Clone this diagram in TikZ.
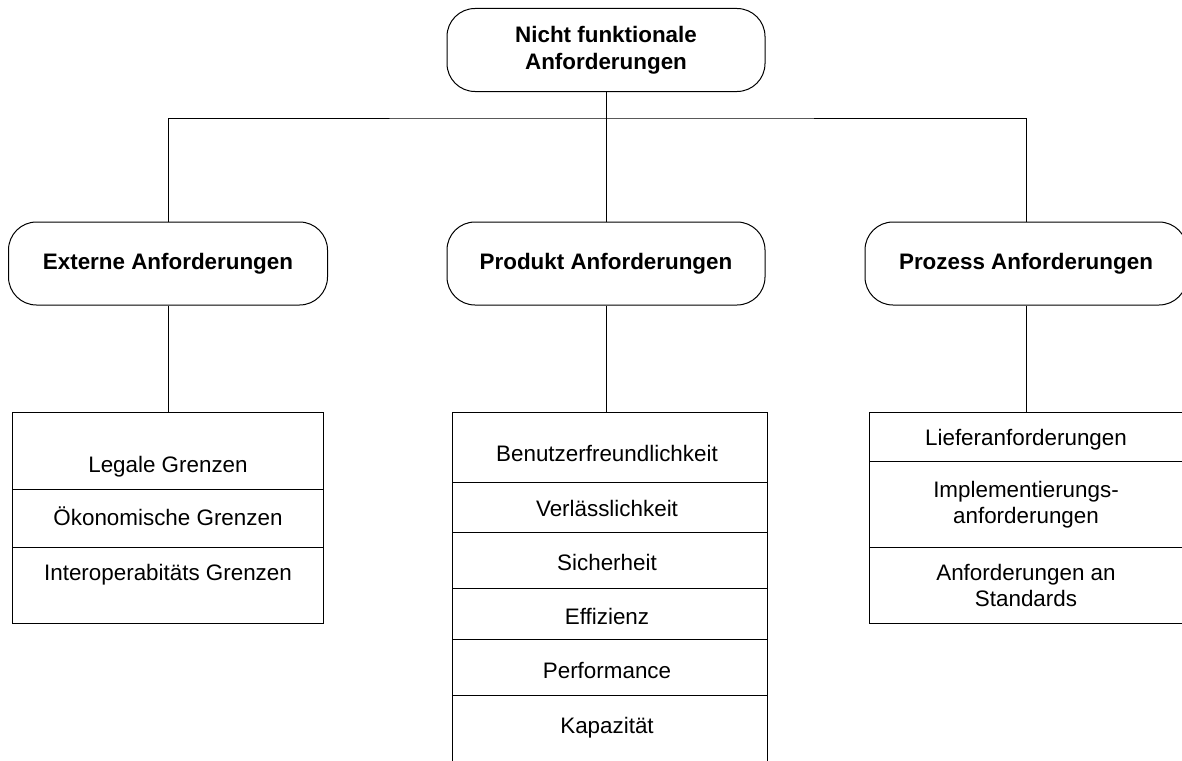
\documentclass[tikz,border=0pt]{standalone}
\usepackage{fontspec}
\setmainfont{Liberation Sans}
\begin{document}
\begin{tikzpicture}[x=1pt,y=-1pt,
  every node/.style={font=\fontsize{22.4}{26}\selectfont},
  head/.style={draw, line width=1pt, rounded corners=28pt, minimum height=83pt,
    inner sep=0pt, font=\fontsize{22.4}{27}\selectfont\bfseries, align=center},
  cell/.style={draw, line width=1pt, inner sep=0pt},
  label/.style={inner sep=0pt, align=center, text height=16pt, text depth=0pt},
  link/.style={line width=1pt}]
\useasboundingbox (0,0) rectangle (1182,760);

% top level and the three categories
\node[head, minimum width=318pt] (root) at (606,50) {Nicht funktionale\\Anforderungen};
\node[head, minimum width=319pt] (ext)  at (168,263.5) {Externe Anforderungen};
\node[head, minimum width=318pt] (prod) at (606,263.5) {Produkt Anforderungen};
\node[head, minimum width=322pt] (proz) at (1026,263.5) {Prozess Anforderungen};

% tree connectors
\coordinate (bus) at (606,118);
\draw[link] (root.south) -- (bus);
\draw[link] (ext.north) |- (bus) -| (proz.north);
\draw[link] (bus) -- (prod.north);

% external requirements list
\node[cell, minimum width=311pt, minimum height=77pt] (l1) at (168,450.5) {};
\node[cell, minimum width=311pt, minimum height=58pt] (l2) at (168,518) {};
\node[cell, minimum width=311pt, minimum height=76pt] (l3) at (168,585) {};
\node[label] (t_l1) at (168,464) {Legale Grenzen};
\node[label] (t_l2) at (168,517) {Ökonomische Grenzen};
\node[label] (t_l3) at (168,572) {Interoperabitäts Grenzen};
\draw[link] (ext.south) -- (l1.north);

% product requirements list
\node[cell, minimum width=315pt, minimum height=70pt] (m1) at (609.5,447) {};
\node[cell, minimum width=315pt, minimum height=50pt] (m2) at (609.5,507) {};
\node[cell, minimum width=315pt, minimum height=56pt] (m3) at (609.5,560) {};
\node[cell, minimum width=315pt, minimum height=51pt] (m4) at (609.5,613.5) {};
\node[cell, minimum width=315pt, minimum height=56pt] (m5) at (609.5,667) {};
\node[cell, minimum width=315pt, minimum height=80pt] (m6) at (609.5,735) {};
\node[label] (t_m1) at (607,453) {Benutzerfreundlichkeit};
\node[label] (t_m2) at (607,508) {Verlässlichkeit};
\node[label] (t_m3) at (607,562) {Sicherheit};
\node[label] (t_m4) at (607,616) {Effizienz};
\node[label] (t_m5) at (607,670) {Performance};
\node[label] (t_m6) at (607,725) {Kapazität};
\draw[link] (prod.south) -- (prod.south |- m1.north);

% process requirements list
\node[cell, minimum width=314pt, minimum height=49pt] (r1) at (1026,436.5) {};
\node[cell, minimum width=314pt, minimum height=86pt] (r2) at (1026,504) {};
\node[cell, minimum width=314pt, minimum height=76pt] (r3) at (1026,585) {};
\node[label] (t_r1) at (1026,437) {Lieferanforderungen};
\node[inner sep=0pt, align=center] (t_r2) at (1026,505) {Implementierungs-\\anforderungen};
\node[inner sep=0pt, align=center] (t_r3) at (1026,585) {Anforderungen an\\Standards};
\draw[link] (proz.south) -- (r1.north);
\end{tikzpicture}
\end{document}
